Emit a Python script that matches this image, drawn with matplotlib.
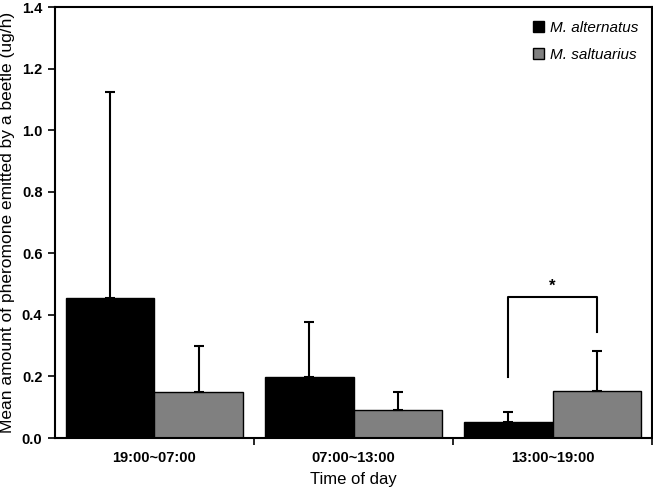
import numpy as np
import matplotlib
matplotlib.use('Agg')
import matplotlib.pyplot as plt

plt.rcParams['font.family'] = ['Liberation Sans', 'DejaVu Sans']

# data
periods = ['19:00~07:00', '07:00~13:00', '13:00~19:00']
alternatus = [0.455, 0.198, 0.052]
alternatus_err = [0.670, 0.179, 0.034]
saltuarius = [0.150, 0.092, 0.152]
saltuarius_err = [0.148, 0.057, 0.131]

fig = plt.figure(figsize=(6.53, 4.90), dpi=100)
ax = fig.add_axes([0.0842, 0.106, 0.9143, 0.8797])

x = np.arange(len(periods))
w = 0.445
ekw = dict(elinewidth=1.5, capsize=3.5, capthick=1.5, ecolor='black')
ax.bar(x - w/2, alternatus, w, color='black', edgecolor='black', linewidth=1,
       yerr=[np.zeros(3), alternatus_err], error_kw=ekw, label='M. alternatus')
ax.bar(x + w/2, saltuarius, w, color='#808080', edgecolor='black', linewidth=1,
       yerr=[np.zeros(3), saltuarius_err], error_kw=ekw, label='M. saltuarius')

# significance bracket for the last period
xl, xr = 2 - w/2, 2 + w/2
ax.plot([xl, xl, xr, xr], [0.198, 0.458, 0.458, 0.344], color='black', lw=1.5)
ax.text((xl + xr) / 2, 0.47, '*', ha='center', va='bottom', fontsize=12, fontweight='bold')

ax.set_xlim(-0.5, 2.5)
ax.set_ylim(0, 1.4)
ax.set_yticks(np.arange(0, 1.41, 0.2))
ax.set_yticklabels(['%.1f' % v for v in np.arange(0, 1.41, 0.2)], fontweight='bold')
ax.set_xticks(x)
ax.set_xticklabels(periods, fontweight='bold')
ax.set_xticks([0.5, 1.5, 2.5], minor=True)
ax.tick_params(axis='x', which='major', length=0, labelsize=10.5, pad=9)
ax.tick_params(axis='x', which='minor', length=5, width=1.2, direction='out')
ax.tick_params(axis='y', length=5, width=1.2, direction='out', labelsize=10.5, pad=4)
for s in ax.spines.values():
    s.set_linewidth(1.5)

ax.set_xlabel('Time of day', fontsize=12, labelpad=5)
ax.set_ylabel('Mean amount of pheromone emitted by a beetle (ug/h)', fontsize=12.5, labelpad=5)

leg = ax.legend(loc='upper right', frameon=False, handlelength=0.7, handleheight=0.7,
                handletextpad=0.4, fontsize=11, labelspacing=0.85, borderaxespad=0.5)
for t in leg.get_texts():
    t.set_fontstyle('italic')

fig.savefig('out.png', dpi=100)
